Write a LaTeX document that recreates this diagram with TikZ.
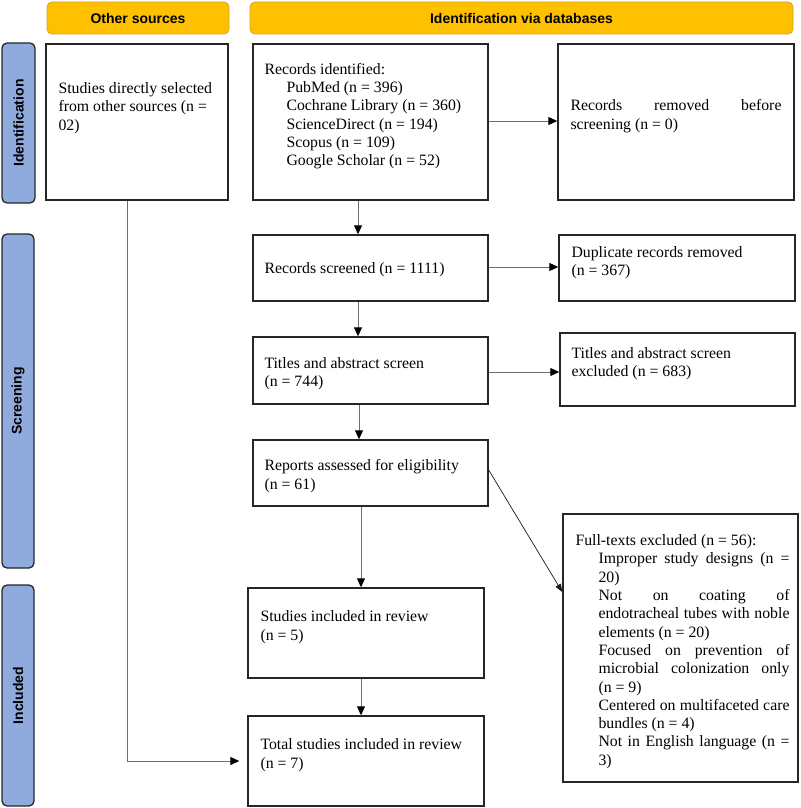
\documentclass[tikz,border=0pt]{standalone}
\usepackage{fontspec}
\setmainfont{Liberation Serif}
\newfontfamily\hdrfont{Liberation Sans}
\usetikzlibrary{arrows.meta,calc}
\definecolor{hdrfill}{HTML}{FFC000}
\definecolor{hdrdraw}{HTML}{D9A21B}
\definecolor{barfill}{HTML}{8FAADC}
\definecolor{linegray}{HTML}{6E6E6E}
\setlength{\parindent}{0pt}
\begin{document}
\begin{tikzpicture}[x=1pt,y=-1pt,
  box/.style={draw=black!85, line width=1.4pt, inner sep=0pt, fill=white},
  txt/.style={inner sep=0pt, anchor=north west, align=left, font=\fontsize{15.8}{18.3}\selectfont},
  jtxt/.style={txt, align=justify},
  hdr/.style={draw=hdrdraw, line width=0.8pt, fill=hdrfill, rounded corners=5pt, inner sep=0pt, font=\hdrfont\bfseries\fontsize{14}{16}\selectfont},
  sidebar/.style={draw=black!85, line width=1.3pt, fill=barfill, rounded corners=5pt, inner sep=0pt, rotate=90, font=\hdrfont\bfseries\fontsize{14}{16}\selectfont},
  arr/.style={draw=linegray, line width=0.9pt, -{Triangle[length=9pt,width=8pt,color=black]}},
]
\useasboundingbox (0,0) rectangle (800,808);

% headers
\node[hdr, minimum width=182pt, minimum height=32pt] (hother) at (138,18) {Other sources};
\node[hdr, minimum width=543pt, minimum height=32pt] (hdb) at (521.5,18) {Identification via databases};

% side bars
\node[sidebar, minimum width=160pt, minimum height=33pt] (sid) at (18.5,123) {Identification};
\node[sidebar, minimum width=334pt, minimum height=32pt] (sscr) at (18,401) {Screening};
\node[sidebar, minimum width=221pt, minimum height=32pt] (sinc) at (18,695.5) {Included};

% boxes
\node[box, minimum width=182pt, minimum height=156pt] (src) at (137,122) {};
\node[box, minimum width=235pt, minimum height=156pt] (rid) at (370.5,122) {};
\node[box, minimum width=236pt, minimum height=156pt] (rem) at (676,122) {};
\node[box, minimum width=235pt, minimum height=66pt] (scr) at (370.5,268) {};
\node[box, minimum width=236pt, minimum height=66pt] (dup) at (677,268) {};
\node[box, minimum width=235pt, minimum height=67pt] (tas) at (370.5,370.5) {};
\node[box, minimum width=235pt, minimum height=73pt] (tex) at (677.5,369.5) {};
\node[box, minimum width=235pt, minimum height=66pt] (rep) at (370.5,473) {};
\node[box, minimum width=235pt, minimum height=268pt] (ful) at (680.5,648) {};
\node[box, minimum width=236pt, minimum height=90pt] (inc) at (366,633) {};
\node[box, minimum width=236pt, minimum height=90pt] (tot) at (366,761) {};

% texts
\node[txt] (tsrc) at ($(src.north west)+(13,39.2)$) {Studies directly selected\\from other sources (n =\\02)};
\node[txt] (trid) at ($(rid.north west)+(12,19.6)$) {Records identified:\\
\hspace*{22pt}PubMed (n = 396)\\
\hspace*{22pt}Cochrane Library (n = 360)\\
\hspace*{22pt}ScienceDirect (n = 194)\\
\hspace*{22pt}Scopus (n = 109)\\
\hspace*{22pt}Google Scholar (n = 52)};
\node[jtxt, text width=211pt] (trem) at ($(rem.north west)+(13,56.2)$) {Records removed before\linebreak screening (n = 0)};
\node[txt] (tscr) at ($(scr.north west)+(12,28.4)$) {Records screened (n = 1111)};
\node[txt] (tdup) at ($(dup.north west)+(13,12.2)$) {Duplicate records removed\\(n = 367)};
\node[txt] (ttas) at ($(tas.north west)+(12,21.2)$) {Titles and abstract screen\\(n = 744)};
\node[txt] (ttex) at ($(tex.north west)+(12,15.2)$) {Titles and abstract screen\\excluded (n = 683)};
\node[txt] (trep) at ($(rep.north west)+(12,20.2)$) {Reports assessed for eligibility\\(n = 61)};
\node[jtxt, text width=214pt] (tful) at ($(ful.north west)+(13,21.2)$) {Full-texts excluded (n = 56):\par\leftskip=23pt Improper study designs (n =\linebreak 20)\par Not on coating of\linebreak endotracheal tubes with noble\linebreak elements (n = 20)\par Focused on prevention of\linebreak microbial colonization only\linebreak (n = 9)\par Centered on multifaceted care\linebreak bundles (n = 4)\par Not in English language (n =\linebreak 3)\par};
\node[txt] (tinc) at ($(inc.north west)+(13,23.4)$) {Studies included in review\\(n = 5)};
\node[txt] (ttot) at ($(tot.north west)+(13,23.4)$) {Total studies included in review\\(n = 7)};

% connectors
\coordinate (a1) at ([xshift=-12.5pt]rid.south);
\draw[arr] (a1) -- (a1 |- scr.north);
\coordinate (a2) at ([xshift=-12.5pt]scr.south);
\draw[arr] (a2) -- (a2 |- tas.north);
\coordinate (a3) at ([xshift=-11.5pt]tas.south);
\draw[arr] (a3) -- (a3 |- rep.north);
\coordinate (a4) at ([xshift=-9.5pt]rep.south);
\draw[arr] (a4) -- (a4 |- inc.north);
\coordinate (a5) at ([xshift=-5pt]inc.south);
\draw[arr] (a5) -- (a5 |- tot.north);

\draw[arr] ([yshift=1pt]rid.east) -- ([yshift=1pt]rid.east -| rem.west);
\draw[arr] ([yshift=1pt]scr.east) -- ([yshift=1pt]scr.east -| dup.west);
\draw[arr] ([yshift=-1.5pt]tas.east) -- ([yshift=-1.5pt]tas.east -| tex.west);
\draw[draw=black!90, line width=0.7pt, -{Triangle[length=8pt,width=6pt]}] ([yshift=3pt]rep.east) -- ([yshift=56pt]ful.west);

\coordinate (l0) at ([xshift=-10pt]src.south);
\draw[arr, shorten >=8pt] (l0) |- (tot.west);
\end{tikzpicture}
\end{document}
